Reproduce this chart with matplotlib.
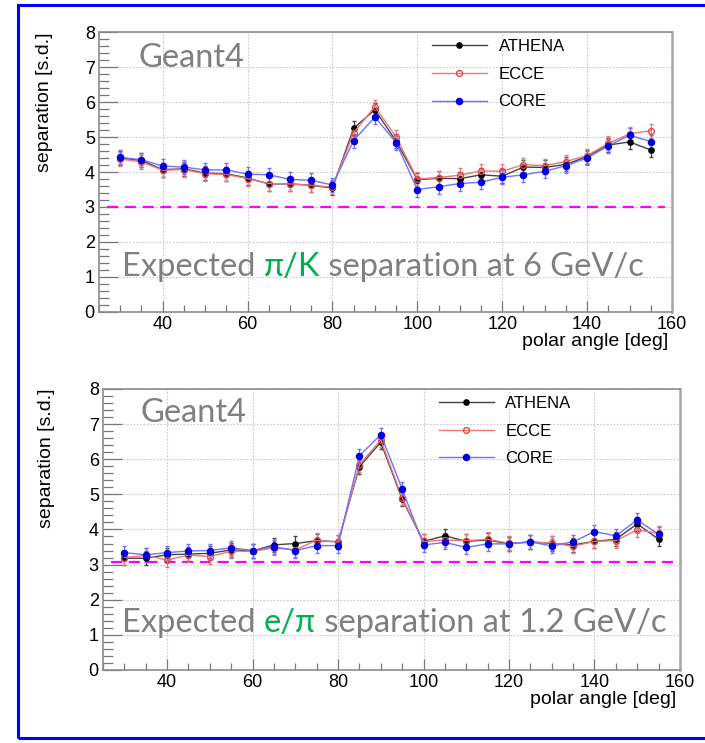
import matplotlib
matplotlib.use("Agg")
import matplotlib.pyplot as plt
from matplotlib.ticker import MultipleLocator
from matplotlib.patches import Rectangle
from matplotlib.lines import Line2D

# polar angle bins [deg]
angles = [30, 35, 40, 45, 50, 55, 60, 65, 70, 75, 80, 85, 90,
          95, 100, 105, 110, 115, 120, 125, 130, 135, 140, 145, 150, 155]

# pi/K separation at 6 GeV/c [s.d.]
athena_pik = [4.40, 4.33, 4.07, 4.09, 3.97, 3.95, 3.83, 3.66, 3.66, 3.62, 3.54, 5.25, 5.78,
              4.88, 3.78, 3.82, 3.81, 3.92, 3.88, 4.14, 4.13, 4.22, 4.44, 4.77, 4.86, 4.63]
ecce_pik = [4.37, 4.29, 4.05, 4.07, 3.95, 3.93, 3.81, 3.67, 3.66, 3.62, 3.57, 5.12, 5.87,
            5.00, 3.80, 3.84, 3.91, 4.03, 4.02, 4.21, 4.18, 4.30, 4.47, 4.82, 5.09, 5.18]
core_pik = [4.42, 4.35, 4.17, 4.14, 4.06, 4.06, 3.94, 3.92, 3.79, 3.76, 3.63, 4.90, 5.57,
            4.84, 3.50, 3.58, 3.67, 3.71, 3.85, 3.92, 4.02, 4.18, 4.40, 4.75, 5.05, 4.87]

# e/pi separation at 1.2 GeV/c [s.d.]
athena_epi = [3.18, 3.18, 3.28, 3.30, 3.32, 3.42, 3.39, 3.56, 3.60, 3.68, 3.65, 5.79, 6.48,
              4.86, 3.66, 3.82, 3.66, 3.70, 3.59, 3.65, 3.60, 3.56, 3.66, 3.72, 4.16, 3.72]
ecce_epi = [3.20, 3.26, 3.13, 3.27, 3.23, 3.38, 3.38, 3.47, 3.42, 3.69, 3.64, 5.84, 6.55,
            4.90, 3.66, 3.70, 3.68, 3.72, 3.61, 3.63, 3.62, 3.52, 3.66, 3.68, 3.99, 3.89]
core_epi = [3.34, 3.28, 3.34, 3.39, 3.40, 3.48, 3.40, 3.51, 3.40, 3.54, 3.54, 6.10, 6.70,
            5.15, 3.56, 3.63, 3.49, 3.59, 3.59, 3.65, 3.53, 3.65, 3.94, 3.82, 4.27, 3.86]

# statistical uncertainty on each point
sep_err = [0.20, 0.20, 0.20, 0.20, 0.20, 0.20, 0.20, 0.20, 0.20, 0.20, 0.20, 0.20, 0.20,
           0.20, 0.20, 0.20, 0.20, 0.20, 0.20, 0.20, 0.20, 0.20, 0.20, 0.20, 0.20, 0.20]

# required separation lines
threshold_pik = 3.0
threshold_epi = 3.08
threshold_span = [26.8, 158.4]

labels = ["ATHENA", "ECCE", "CORE"]

ROOT_FONT = ["Liberation Sans", "DejaVu Sans"]
SLIDE_FONT = ["Lato", "DejaVu Sans"]
GRAY = "#7f7f7f"
GREEN = "#00b050"

# line colour, marker edge, marker face, marker size
STYLES = [("#444444", "black", "black", 3.8),
          ("#ee7777", "#e04848", "none", 4.2),
          ("#7070ff", "#0000e0", "#0000e0", 4.4)]


def draw_series(ax, x, y, err, style):
    line_color, marker_color, face, ms = style
    ax.errorbar(x, y, yerr=err, color=line_color, ecolor=line_color, lw=1.0,
                elinewidth=0.9, capsize=1.5, capthick=0.9, marker="o", ms=ms,
                mfc=face, mec=marker_color, mew=1.0, zorder=3)


def legend_handles():
    handles = []
    for line_color, marker_color, face, ms in STYLES:
        handles.append(Line2D([], [], color=line_color, lw=1.0, marker="o", ms=ms,
                              mfc=face, mec=marker_color, mew=1.0))
    return handles


def style_axes(ax, threshold):
    ax.set_xlim(25, 160)
    ax.set_ylim(0, 8)
    ax.xaxis.set_major_locator(MultipleLocator(20))
    ax.xaxis.set_minor_locator(MultipleLocator(5))
    ax.yaxis.set_major_locator(MultipleLocator(1))
    ax.yaxis.set_minor_locator(MultipleLocator(0.2))
    ax.tick_params(which="both", direction="in", colors="#777777", labelcolor="black",
                   labelsize=13, width=0.9)
    ax.tick_params(axis="y", which="major", length=14, pad=3)
    ax.tick_params(axis="y", which="minor", length=7)
    ax.tick_params(axis="x", which="major", length=8, pad=3)
    ax.tick_params(axis="x", which="minor", length=5)
    for lab in ax.get_xticklabels() + ax.get_yticklabels():
        lab.set_family(ROOT_FONT)
    ax.grid(which="major", ls=(0, (1.5, 1.5)), color="#c8c8c8", lw=0.8)
    for side, sp in ax.spines.items():
        sp.set_color("#8c8c8c")
        sp.set_linewidth(1.2)
    ax.spines["right"].set_linewidth(1.8)
    ax.spines["right"].set_color("#a8a8a8")
    ax.hlines(threshold, threshold_span[0], threshold_span[1], colors="#ff00ff",
              linestyles=(0, (5, 3)), lw=1.6, zorder=2)
    ax.set_ylabel("separation [s.d.]", loc="top", fontsize=14, family=ROOT_FONT)
    ax.set_xlabel("polar angle [deg]", loc="right", fontsize=14, family=ROOT_FONT)


def colored_text(fig, x_px, y_px, pieces, size):
    renderer = fig.canvas.get_renderer()
    W, H = fig.bbox.width, fig.bbox.height
    x = x_px / W
    for s, color in pieces:
        t = fig.text(x, 1 - y_px / H, s, color=color, fontsize=size,
                     family=SLIDE_FONT, va="baseline", ha="left")
        x += t.get_window_extent(renderer).width / W


def make_panel(fig, rect, series, threshold, leg_anchor, ylab_x):
    ax = fig.add_axes(rect)
    for values, style in zip(series, STYLES):
        draw_series(ax, angles, values, sep_err, style)
    style_axes(ax, threshold)
    ax.yaxis.set_label_coords(ylab_x, 1.0)
    ax.xaxis.set_label_coords(0.994, -0.105)
    ax.xaxis.label.set_va("center")
    ax.legend(legend_handles(), labels, loc="upper left", bbox_to_anchor=leg_anchor,
              frameon=False, prop={"family": ROOT_FONT, "size": 12}, handlelength=3.3,
              handletextpad=0.7, labelspacing=0.76, borderpad=0, borderaxespad=0)
    return ax


fig = plt.figure(figsize=(7.05, 7.43), dpi=100)

ax_top = make_panel(fig, [0.1404, 0.5801, 0.8128, 0.3768],
                    [athena_pik, ecce_pik, core_pik], threshold_pik, (0.581, 0.975), -0.080)
ax_bot = make_panel(fig, [0.1461, 0.0983, 0.8184, 0.3782],
                    [athena_epi, ecce_epi, core_epi], threshold_epi, (0.582, 0.975), -0.083)

fig.canvas.draw()

fig.text(138 / 705, 1 - 67 / 743, "Geant4", color=GRAY, fontsize=23.5,
         family=SLIDE_FONT, va="baseline")
fig.text(140 / 705, 1 - 422 / 743, "Geant4", color=GRAY, fontsize=23.5,
         family=SLIDE_FONT, va="baseline")
colored_text(fig, 122, 276, [("Expected ", GRAY), ("π/K", GREEN),
                             (" separation at 6 GeV/c", GRAY)], 23.5)
colored_text(fig, 122, 632, [("Expected ", GRAY), ("e/π", GREEN),
                             (" separation at 1.2 GeV/c", GRAY)], 23.5)

# slide frame
fig.patches.append(Rectangle((18 / 705, 5 / 743), 1.0, 733 / 743, transform=fig.transFigure,
                             fill=False, edgecolor="#0000ff", lw=2.2, zorder=10))

fig.savefig("out.png", dpi=100)
